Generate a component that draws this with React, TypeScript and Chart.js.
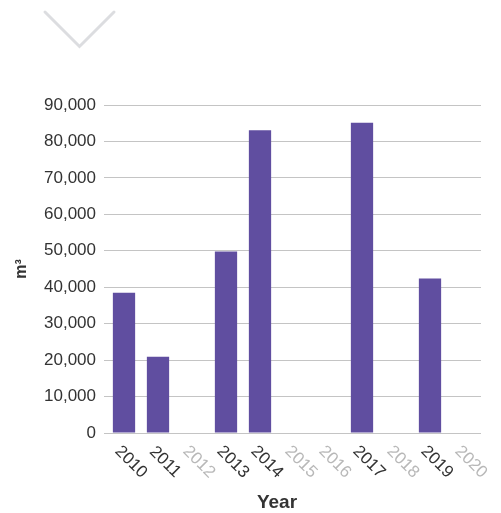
import React, { useEffect, useRef } from 'react';
import { Chart, registerables } from 'chart.js';

Chart.register(...registerables);

const years = ['2010', '2011', '2012', '2013', '2014', '2015', '2016', '2017', '2018', '2019', '2020'];
const volumes: (number | null)[] = [38500, 20900, null, 49800, 83100, null, null, 85100, null, 42400, null];
const yMax = 90000;
const yStep = 10000;
const yTitle = 'm³';
const xTitle = 'Year';

const FONT = '"Liberation Sans", Arial, Helvetica, sans-serif';

export default function App() {
  const ref = useRef<HTMLCanvasElement>(null);

  useEffect(() => {
    if (!ref.current) return;
    const overlay = {
      id: 'overlay',
      afterDraw(chart: any) {
        const ctx = chart.ctx as CanvasRenderingContext2D;
        const xs = chart.scales.x;
        const area = chart.chartArea;
        ctx.save();
        // chevron decoration
        ctx.strokeStyle = '#dcdde0';
        ctx.lineWidth = 3;
        ctx.lineCap = 'round';
        ctx.beginPath();
        ctx.moveTo(45, 12);
        ctx.lineTo(79.5, 46.5);
        ctx.lineTo(114, 12);
        ctx.stroke();
        // rotated x labels
        ctx.font = `17px ${FONT}`;
        ctx.textAlign = 'center';
        ctx.textBaseline = 'middle';
        years.forEach((yr, i) => {
          const px = xs.getPixelForValue(i);
          ctx.save();
          ctx.translate(px + 7, area.bottom + 29);
          ctx.rotate(Math.PI / 4);
          ctx.fillStyle = volumes[i] == null ? '#b8b8b8' : '#333333';
          ctx.fillText(yr, 0, 0);
          ctx.restore();
        });
        // x title
        ctx.font = `bold 19px ${FONT}`;
        ctx.fillStyle = '#333333';
        ctx.textAlign = 'center';
        ctx.textBaseline = 'middle';
        ctx.fillText(xTitle, 277, area.bottom + 70);
        ctx.restore();
      },
    };

    const chart = new Chart(ref.current, {
      type: 'bar',
      data: {
        labels: years,
        datasets: [
          {
            data: volumes,
            backgroundColor: '#604ea0',
            borderWidth: 0,
            categoryPercentage: 1,
            barPercentage: 0.655,
          },
        ],
      },
      options: {
        animation: false,
        responsive: false,
        devicePixelRatio: 1,
        layout: { padding: { top: 105, right: 20, bottom: 72, left: 0 } },
        plugins: {
          legend: { display: false },
          tooltip: { enabled: false },
        },
        scales: {
          x: {
            ticks: { display: false },
            grid: { display: false },
            border: { display: false },
          },
          y: {
            min: 0,
            max: yMax,
            afterFit: (scale: any) => {
              scale.width = 107;
            },
            ticks: {
              stepSize: yStep,
              padding: 8,
              color: '#333333',
              font: { family: FONT, size: 17 },
              callback: (v: any) => Number(v).toLocaleString('en-US'),
            },
            grid: {
              color: '#c4c4c4',
              lineWidth: 1,
              tickLength: 3,
              drawTicks: true,
            },
            border: { display: false },
            title: {
              display: true,
              text: yTitle,
              color: '#333333',
              font: { family: FONT, size: 16, weight: 'bold' },
              padding: { top: 12, bottom: 0 },
            },
          },
        },
      },
      plugins: [overlay],
    } as any);
    return () => chart.destroy();
  }, []);

  return (
    <div style={{ position: 'absolute', left: 0, top: 0, width: 501, height: 513 }}>
      <canvas ref={ref} width={501} height={513} style={{ display: 'block', width: 501, height: 513 }} />
    </div>
  );
}
